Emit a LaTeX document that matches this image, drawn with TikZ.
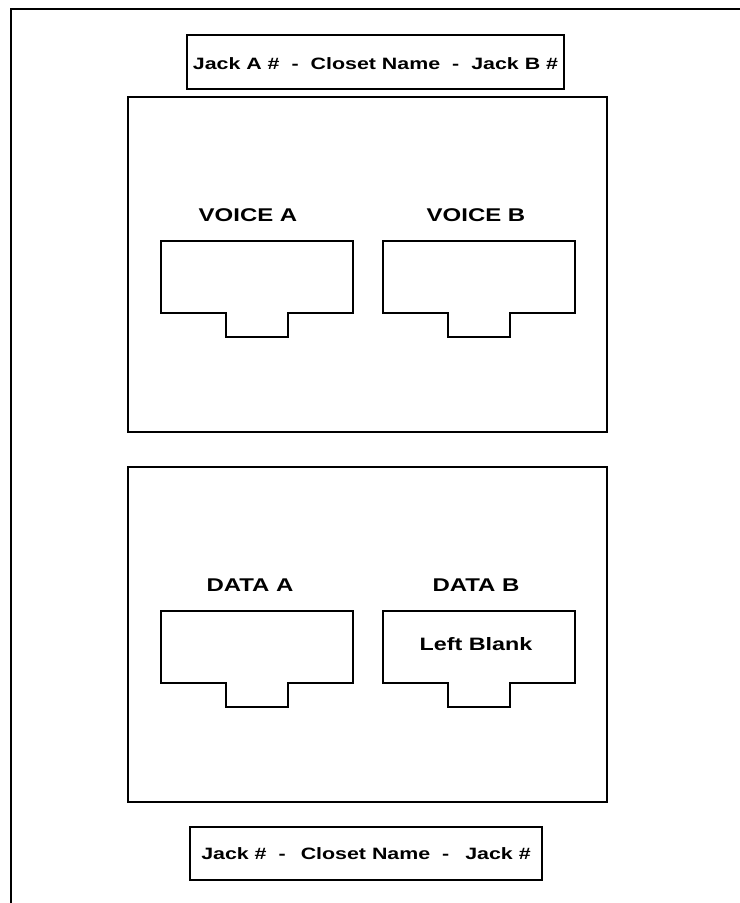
\documentclass[tikz,border=0pt]{standalone}
\usepackage{fontspec}
\setmainfont{Liberation Sans}[FakeStretch=1.3]
\usetikzlibrary{positioning}
\tikzstyle{frame} = [line width=2bp]
\tikzstyle{panel} = [draw, line width=2bp, minimum width=479bp, minimum height=335bp, inner sep=0pt]
\tikzstyle{tagbox} = [draw, line width=2.2bp, inner sep=0pt, font=\bfseries\fontsize{16.5}{19}\selectfont]
\tikzstyle{jackbody} = [minimum width=192bp, minimum height=72bp, inner sep=0pt]
\tikzstyle{heading} = [inner sep=0pt, text depth=0pt, font=\bfseries\fontsize{18.5}{22}\selectfont]
\tikzstyle{outline} = [line width=2bp]
\newcommand{\jackoutline}[1]{%
  \draw[outline] (#1.north west) -| (#1.south east) -- ++(-65,0) -- ++(0,24)
    -- ++(-62,0) -- ++(0,-24) -- (#1.south west) -- cycle;}

\begin{document}
\begin{tikzpicture}[x=1bp, y=-1bp]
  \useasboundingbox (0,0) rectangle (740,903);
  \coordinate (corner) at (11,9);
  \coordinate (topend) at (740,9);
  \coordinate (leftend) at (11,903);
  \draw[frame] (leftend) -- (corner) -- (topend);

  \node[tagbox, minimum width=377bp, minimum height=54bp, text height=15bp] (topTag) at (375.5,62)
    {Jack A \#\hspace{12bp}-\hspace{12bp}Closet Name\hspace{12bp}-\hspace{12bp}Jack B \#};
  \node[panel] (voicePanel) at (367.5,264.5) {};
  \node[panel] (dataPanel) at (367.5,634.5) {};
  \node[tagbox, minimum width=352bp, minimum height=53bp] (bottomTag) at (366,853.5)
    {Jack \#\hspace{12bp}-\hspace{15bp}Closet Name\hspace{12bp}-\hspace{16bp}Jack \#};

  \node[jackbody] (voiceA) at (257,277) {};
  \node[jackbody] (voiceB) at (479,277) {};
  \node[jackbody] (dataA) at (257,647) {};
  \node[jackbody] (dataB) at (479,647) {};
  \jackoutline{voiceA}
  \jackoutline{voiceB}
  \jackoutline{dataA}
  \jackoutline{dataB}

  \node[heading, above=19bp of voiceA, xshift=-9bp] (voiceAlabel) {VOICE A};
  \node[heading, above=19bp of voiceB, xshift=-3bp] (voiceBlabel) {VOICE B};
  \node[heading, above=19bp of dataA, xshift=-7bp] (dataAlabel) {DATA A};
  \node[heading, above=19bp of dataB, xshift=-3bp] (dataBlabel) {DATA B};
  \node[heading, below=26bp of dataB.north, xshift=-3bp, font=\bfseries\fontsize{18}{22}\selectfont] (blankNote) {Left Blank};
\end{tikzpicture}
\end{document}
